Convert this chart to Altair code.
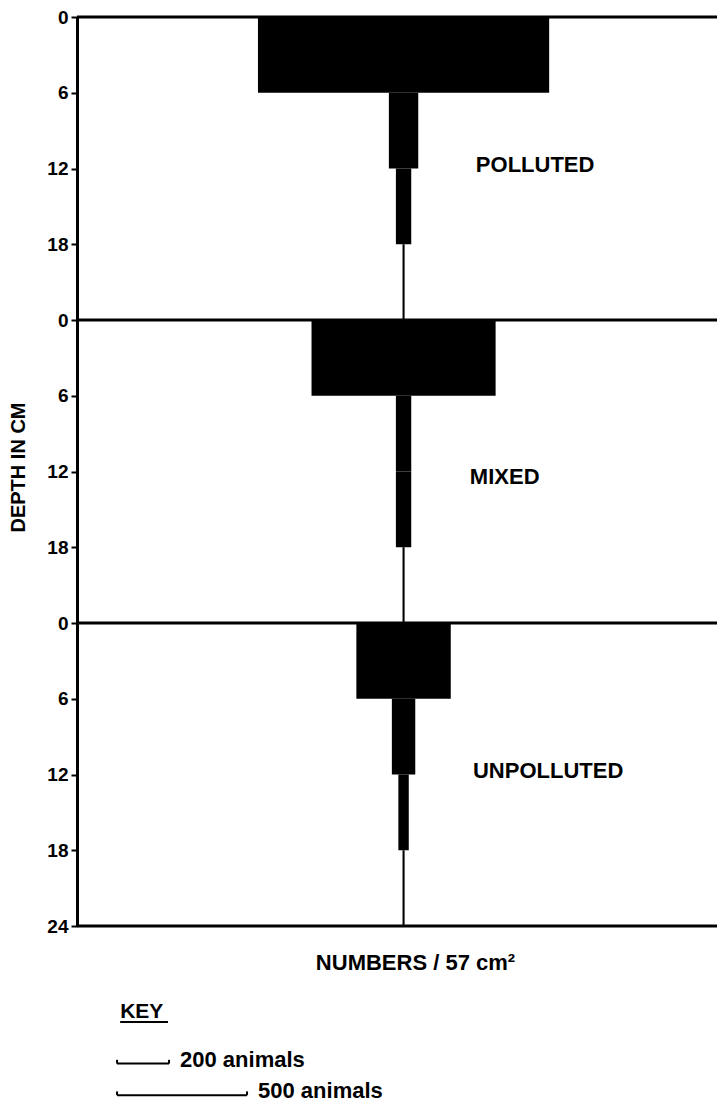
import altair as alt
import pandas as pd

# ---- data ----
panels = ["POLLUTED", "MIXED", "UNPOLLUTED"]
depth_top = [0, 6, 12, 18]
depth_bottom = [6, 12, 18, 24]
polluted = [1120, 113, 59, 8]
mixed = [708, 59, 59, 8]
unpolluted = [363, 90, 40, 8]
tick_values = [0, 6, 12, 18, 24, 30, 36, 42, 48, 54, 60, 66, 72]
key_counts = [200, 500]
key_labels = ["200 animals", "500 animals"]

FONT = "Liberation Sans"
PANEL_DEPTH = 24

rows = []
for p, (name, vals) in enumerate(zip(panels, [polluted, mixed, unpolluted])):
    for t, b, n in zip(depth_top, depth_bottom, vals):
        rows.append({"panel": name, "y": p * PANEL_DEPTH + t, "y2": p * PANEL_DEPTH + b,
                     "x": -n / 2, "x2": n / 2})
bars_df = pd.DataFrame(rows)

# layout for panel labels (animals from centre, depth units)
label_dx = [278, 255, 267]
label_dy = [11.75, 12.4, 11.7]
labels_df = pd.DataFrame({
    "label": panels,
    "x": label_dx,
    "y": [i * PANEL_DEPTH + d for i, d in enumerate(label_dy)],
})

bounds_df = pd.DataFrame({"y": [0, 24, 48, 72]})

key_x0 = -1102
key_y = [82.9, 85.4]
key_df = pd.DataFrame({
    "x": [key_x0] * 2,
    "x2": [key_x0 + c for c in key_counts],
    "y": key_y,
    "label": key_labels,
})
key_ends = pd.DataFrame({
    "x": [key_x0, key_x0 + key_counts[0], key_x0, key_x0 + key_counts[1]],
    "y": [key_y[0], key_y[0], key_y[1], key_y[1]],
    "y2": [key_y[0] - 0.3, key_y[0] - 0.3, key_y[1] - 0.3, key_y[1] - 0.3],
})

xscale = alt.Scale(domain=[-1256, 1205.5], nice=False, zero=False)
yscale = alt.Scale(domain=[0, 72], reverse=True, nice=False, zero=False)

bars = alt.Chart(bars_df).mark_rect(color="black").encode(
    x=alt.X("x:Q", scale=xscale,
            axis=alt.Axis(domain=False, ticks=False, labels=False, grid=False,
                          title="NUMBERS / 57 cm²", titleFont=FONT, titleFontSize=22,
                          titleFontWeight="bold", titleColor="black", titlePadding=26,
                          titleX=338)),
    x2="x2:Q",
    y=alt.Y("y:Q", scale=yscale,
            axis=alt.Axis(values=tick_values, grid=False, domainColor="black", domainWidth=3,
                          tickColor="black", tickWidth=2, tickSize=6,
                          labelFont=FONT, labelFontSize=19, labelFontWeight="bold",
                          labelColor="black", labelPadding=3,
                          labelExpr="datum.value == 72 ? '24' : '' + (datum.value % 24)",
                          title="DEPTH  IN  CM", titleFont=FONT, titleFontSize=20,
                          titleFontWeight="bold", titleColor="black",
                          titleX=-53, titleY=450, titleAngle=-90,
                          titleBaseline="alphabetic", titleAlign="center")),
    y2="y2:Q",
)

bounds = alt.Chart(bounds_df).mark_rule(color="black", strokeWidth=3).encode(
    y=alt.Y("y:Q", scale=yscale)
)

labels = alt.Chart(labels_df).mark_text(
    align="left", baseline="middle", font=FONT, fontSize=22, fontWeight="bold", color="black"
).encode(x=alt.X("x:Q", scale=xscale), y=alt.Y("y:Q", scale=yscale), text="label:N")

key_bars = alt.Chart(key_df).mark_rule(color="black", strokeWidth=2).encode(
    x=alt.X("x:Q", scale=xscale), x2="x2:Q", y=alt.Y("y:Q", scale=yscale)
)
key_tick = alt.Chart(key_ends).mark_rule(color="black", strokeWidth=2).encode(
    x=alt.X("x:Q", scale=xscale), y=alt.Y("y:Q", scale=yscale), y2="y2:Q"
)
key_text = alt.Chart(key_df).mark_text(
    align="left", baseline="middle", dx=11, dy=-4, font=FONT, fontSize=22, fontWeight="bold",
    color="black"
).encode(x=alt.X("x2:Q", scale=xscale), y=alt.Y("y:Q", scale=yscale), text="label:N")

key_title_df = pd.DataFrame({"x": [key_x0 + 12], "y": [78.8], "label": ["KEY"]})
key_title = alt.Chart(key_title_df).mark_text(
    align="left", baseline="middle", font=FONT, fontSize=21, fontWeight="bold", color="black"
).encode(x=alt.X("x:Q", scale=xscale), y=alt.Y("y:Q", scale=yscale), text="label:N")
key_ul_df = pd.DataFrame({"x": [key_x0 + 12], "x2": [key_x0 + 196], "y": [79.6]})
key_ul = alt.Chart(key_ul_df).mark_rule(color="black", strokeWidth=2).encode(
    x=alt.X("x:Q", scale=xscale), x2="x2:Q", y=alt.Y("y:Q", scale=yscale)
)

chart = alt.layer(bars, bounds, labels, key_bars, key_tick, key_text, key_title, key_ul).properties(
    width=640, height=909,
    autosize=alt.AutoSizeParams(type="none"),
    padding={"left": 69, "top": 9, "right": 0, "bottom": 181},
).configure_view(stroke=None)

chart.save("out.html", embed_options={"renderer": "svg", "actions": False})
